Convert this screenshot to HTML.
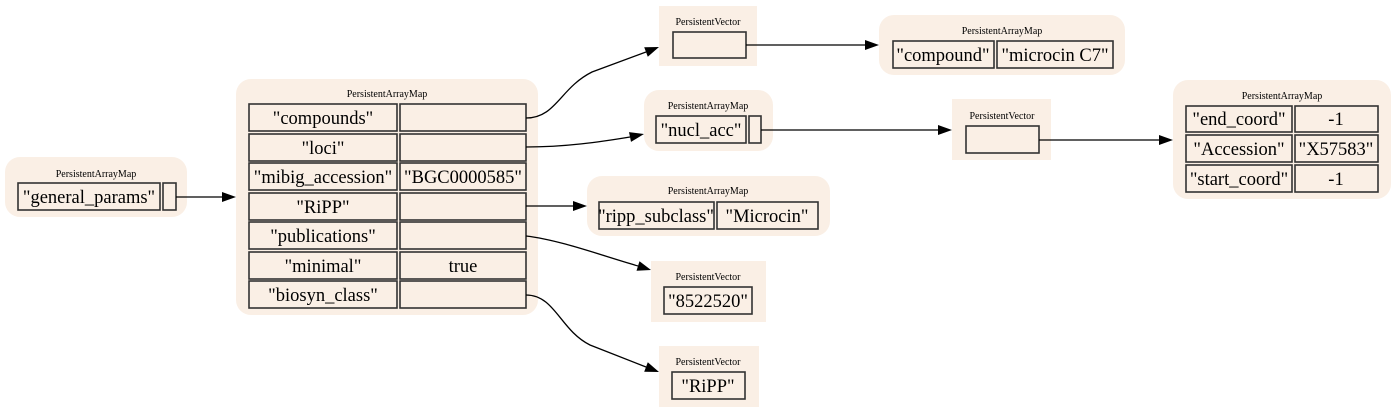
<!DOCTYPE html>
<html><head><meta charset="utf-8"><style>
html,body{margin:0;padding:0;background:#fff;width:1397px;height:413px;overflow:hidden}
svg{display:block}
text{font-family:"Liberation Serif",serif;fill:#000}
.t{font-size:10px}
.c{font-size:18.5px}
.bg{fill:#faefe5}
.cell{fill:#faefe5;stroke:#333;stroke-width:1.6}
.e{fill:none;stroke:#000;stroke-width:1.3}
</style></head><body>
<svg width="1397" height="413" viewBox="0 0 1397 413" xmlns="http://www.w3.org/2000/svg">
<rect class="bg" x="5" y="157" width="182" height="60" rx="15"/>
<text class="t" x="96" y="177" text-anchor="middle">PersistentArrayMap</text>
<rect class="cell" x="18" y="183" width="142" height="27"/>
<text class="c" x="89" y="203" text-anchor="middle">"general_params"</text>
<rect class="cell" x="163" y="183" width="13" height="27"/>

<rect class="bg" x="236" y="79" width="302" height="236" rx="15"/>
<text class="t" x="387" y="97" text-anchor="middle">PersistentArrayMap</text>
<g>
<rect class="cell" x="249" y="104" width="148" height="27"/><rect class="cell" x="400" y="104" width="126" height="27"/>
<text class="c" x="323" y="124" text-anchor="middle">"compounds"</text>
<rect class="cell" x="249" y="134" width="148" height="27"/><rect class="cell" x="400" y="134" width="126" height="27"/>
<text class="c" x="323" y="154" text-anchor="middle">"loci"</text>
<rect class="cell" x="249" y="163" width="148" height="27"/><rect class="cell" x="400" y="163" width="126" height="27"/>
<text class="c" x="323" y="183" text-anchor="middle">"mibig_accession"</text>
<text class="c" x="463" y="183" text-anchor="middle">"BGC0000585"</text>
<rect class="cell" x="249" y="193" width="148" height="27"/><rect class="cell" x="400" y="193" width="126" height="27"/>
<text class="c" x="323" y="213" text-anchor="middle">"RiPP"</text>
<rect class="cell" x="249" y="222" width="148" height="27"/><rect class="cell" x="400" y="222" width="126" height="27"/>
<text class="c" x="323" y="242" text-anchor="middle">"publications"</text>
<rect class="cell" x="249" y="252" width="148" height="27"/><rect class="cell" x="400" y="252" width="126" height="27"/>
<text class="c" x="323" y="272" text-anchor="middle">"minimal"</text>
<text class="c" x="463" y="272" text-anchor="middle">true</text>
<rect class="cell" x="249" y="281" width="148" height="27"/><rect class="cell" x="400" y="281" width="126" height="27"/>
<text class="c" x="323" y="301" text-anchor="middle">"biosyn_class"</text>
</g>

<rect class="bg" x="659" y="6" width="98" height="60"/>
<text class="t" x="708" y="25" text-anchor="middle">PersistentVector</text>
<rect class="cell" x="673" y="32" width="73" height="26"/>

<rect class="bg" x="879" y="15" width="246" height="60" rx="15"/>
<text class="t" x="1002" y="34" text-anchor="middle">PersistentArrayMap</text>
<rect class="cell" x="893" y="41" width="101" height="27"/>
<text class="c" x="943" y="61" text-anchor="middle">"compound"</text>
<rect class="cell" x="997" y="41" width="116" height="27"/>
<text class="c" x="1055" y="61" text-anchor="middle">"microcin C7"</text>

<rect class="bg" x="644" y="90" width="129" height="61" rx="15"/>
<text class="t" x="708" y="109" text-anchor="middle">PersistentArrayMap</text>
<rect class="cell" x="656" y="116" width="90" height="27"/>
<text class="c" x="701" y="136" text-anchor="middle">"nucl_acc"</text>
<rect class="cell" x="749" y="116" width="12" height="27"/>

<rect class="bg" x="952" y="99" width="99" height="61"/>
<text class="t" x="1002" y="119" text-anchor="middle">PersistentVector</text>
<rect class="cell" x="966" y="126" width="73" height="27"/>

<rect class="bg" x="1173" y="80" width="218" height="119" rx="15"/>
<text class="t" x="1282" y="99" text-anchor="middle">PersistentArrayMap</text>
<rect class="cell" x="1186" y="106" width="106" height="26"/><rect class="cell" x="1295" y="106" width="83" height="26"/>
<text class="c" x="1239" y="125" text-anchor="middle">"end_coord"</text>
<text class="c" x="1336" y="125" text-anchor="middle">-1</text>
<rect class="cell" x="1186" y="135" width="106" height="27"/><rect class="cell" x="1295" y="135" width="83" height="27"/>
<text class="c" x="1239" y="155" text-anchor="middle">"Accession"</text>
<text class="c" x="1336" y="155" text-anchor="middle">"X57583"</text>
<rect class="cell" x="1186" y="165" width="106" height="27"/><rect class="cell" x="1295" y="165" width="83" height="27"/>
<text class="c" x="1239" y="185" text-anchor="middle">"start_coord"</text>
<text class="c" x="1336" y="185" text-anchor="middle">-1</text>

<rect class="bg" x="587" y="176" width="243" height="60" rx="15"/>
<text class="t" x="708" y="194" text-anchor="middle">PersistentArrayMap</text>
<rect class="cell" x="599" y="202" width="115" height="27"/>
<text class="c" x="656" y="222" text-anchor="middle">"ripp_subclass"</text>
<rect class="cell" x="717" y="202" width="101" height="27"/>
<text class="c" x="767" y="222" text-anchor="middle">"Microcin"</text>

<rect class="bg" x="651" y="261" width="115" height="61"/>
<text class="t" x="708" y="280" text-anchor="middle">PersistentVector</text>
<rect class="cell" x="664" y="287" width="88" height="27"/>
<text class="c" x="708" y="307" text-anchor="middle">"8522520"</text>

<rect class="bg" x="659" y="346" width="100" height="61"/>
<text class="t" x="708" y="365" text-anchor="middle">PersistentVector</text>
<rect class="cell" x="672" y="372" width="73" height="27"/>
<text class="c" x="708" y="392" text-anchor="middle">"RiPP"</text>

<path class="e" d="M176,197 L222,197"/><polygon points="222,192 236,197 222,202"/>
<path class="e" d="M526,118 C556,118 560,88 592,72 L646,52"/><polygon points="647.8,56.7 659,47 644.2,47.3"/>
<path class="e" d="M526,147 C565,147 600,142 630,137"/><polygon points="631,141.9 644,134 629,132.1"/>
<path class="e" d="M526,206 L573,206"/><polygon points="573,201 587,206 573,211"/>
<path class="e" d="M526,236 C560,240 600,255 638,266"/><polygon points="636.5,270.8 651,270 639.5,261.2"/>
<path class="e" d="M526,295 C555,295 560,330 590,345 L646,367"/><polygon points="644.2,371.7 659,372 647.8,362.3"/>
<path class="e" d="M746,45 L865,45"/><polygon points="865,40 879,45 865,50"/>
<path class="e" d="M761,130 L938,130"/><polygon points="938,125 952,130 938,135"/>
<path class="e" d="M1039,140 L1159,140"/><polygon points="1159,135 1173,140 1159,145"/>
</svg>
</body></html>
